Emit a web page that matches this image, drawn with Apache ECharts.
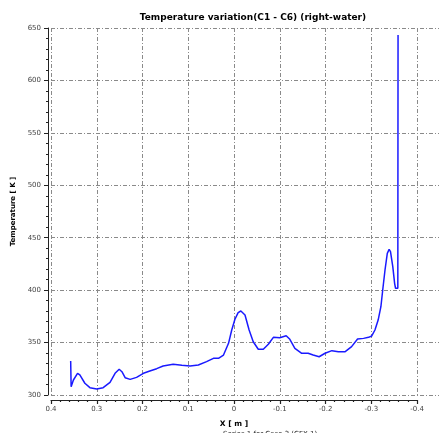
<!DOCTYPE html>
<html>
<head>
<meta charset="utf-8">
<script src="https://cdn.jsdelivr.net/npm/echarts@6/dist/echarts.min.js"></script>
<style>
  html, body { margin: 0; padding: 0; background: #fff; }
  #chart { width: 439px; height: 433px; }
</style>
</head>
<body>
<div id="chart"></div>
<script>
// Position along the line (m) and water temperature (K), C1 -> C6
const xPos = [
  0.357, 0.356, 0.351, 0.342, 0.337, 0.326, 0.315, 0.300, 0.286, 0.271,
  0.260, 0.251, 0.245, 0.238, 0.227, 0.213, 0.198, 0.184, 0.169, 0.155,
  0.133, 0.114, 0.096, 0.078, 0.060, 0.045, 0.034, 0.023, 0.012, 0.005,
  -0.002, -0.009, -0.015, -0.024, -0.033, -0.042, -0.053, -0.064, -0.075, -0.086,
  -0.100, -0.114, -0.122, -0.133, -0.148, -0.162, -0.173, -0.186, -0.199, -0.214,
  -0.228, -0.243, -0.257, -0.270, -0.283, -0.294, -0.301, -0.308, -0.315, -0.321,
  -0.325, -0.330, -0.335, -0.339, -0.342, -0.347, -0.351, -0.353, -0.358, -0.3585
];
const temperature = [
  332.4, 307.9, 314.3, 320.7, 319.1, 311.2, 307.0, 305.7, 307.0, 312.1,
  320.7, 324.5, 322.2, 316.5, 314.9, 316.8, 320.7, 322.9, 325.1, 327.7,
  329.3, 328.3, 327.7, 328.6, 331.8, 335.0, 335.0, 338.1, 349.3, 362.0,
  372.2, 378.5, 380.1, 376.3, 362.0, 350.8, 343.6, 343.6, 348.4, 355.0,
  354.6, 356.5, 353.1, 344.5, 339.8, 339.8, 338.1, 336.5, 339.8, 342.3,
  341.3, 341.3, 346.1, 353.4, 354.0, 355.0, 356.3, 362.0, 371.5, 384.2,
  400.1, 419.2, 435.1, 438.9, 436.7, 422.4, 406.5, 401.8, 401.8, 643.3
];
const seriesName = 'Series 1 for Case 3 (CFX 1)';
const xTicksMin = -0.4, xTicksMax = 0.4;
const yMin = 300, yMax = 650;

const gridDash = { color: '#8a8a8a', width: 1, type: [4, 2, 1, 2] };
const labelFont = { fontFamily: 'DejaVu Sans', fontSize: 7, color: '#444' };

const chart = echarts.init(document.getElementById('chart'), null, { renderer: 'canvas' });
chart.setOption({
  animation: false,
  backgroundColor: '#fff',
  title: {
    text: 'Temperature variation(C1 - C6) (right-water)',
    left: 248, top: 8, textAlign: 'center',
    textStyle: { fontFamily: 'DejaVu Sans', fontWeight: 'bold', fontSize: 9, color: '#000' }
  },
  legend: {
    data: [seriesName],
    left: 195, top: 426,
    itemWidth: 18, itemHeight: 2, itemGap: 4,
    icon: 'rect',
    textStyle: { fontFamily: 'DejaVu Sans', fontSize: 7, color: '#222' }
  },
  grid: [
    // data area, runs to the right edge of the canvas
    { left: 51, right: 0, top: 28, bottom: 38 },
    // tick/label frame from 0.4 to -0.4
    { left: 51, width: 366, top: 28, bottom: 38 }
  ],
  xAxis: [
    {
      gridIndex: 0, type: 'value', inverse: true,
      min: -0.448, max: 0.4, show: false,
      axisLine: { onZero: false }
    },
    {
      gridIndex: 1, type: 'value', inverse: true,
      min: xTicksMin, max: xTicksMax, interval: 0.1,
      position: 'bottom', offset: 5,
      name: 'X [ m ]', nameLocation: 'middle', nameGap: 20,
      nameTextStyle: { fontFamily: 'DejaVu Sans', fontWeight: 'bold', fontSize: 7.5, color: '#000' },
      axisLine: { show: true, onZero: false, lineStyle: { color: '#222', width: 1 } },
      axisTick: { show: true, inside: false, length: 4, lineStyle: { color: '#222', width: 1.2 } },
      minorTick: { show: true, splitNumber: 5, length: 2, lineStyle: { color: '#222', width: 1.2 } },
      axisLabel: Object.assign({ margin: 6, formatter: v => (Math.round(v * 10) / 10).toString() }, labelFont),
      splitLine: { show: true, lineStyle: gridDash }
    }
  ],
  yAxis: [
    {
      gridIndex: 0, type: 'value',
      min: yMin, max: yMax, interval: 50,
      position: 'left', offset: 3,
      name: 'Temperature [ K ]', nameLocation: 'middle', nameGap: 26,
      nameTextStyle: { fontFamily: 'DejaVu Sans', fontWeight: 'bold', fontSize: 7, color: '#000' },
      axisLine: { show: true, onZero: false, lineStyle: { color: '#222', width: 1 } },
      axisTick: { show: true, length: 4, lineStyle: { color: '#222' } },
      minorTick: { show: true, splitNumber: 5, length: 2, lineStyle: { color: '#222' } },
      axisLabel: Object.assign({ margin: 7 }, labelFont),
      splitLine: { show: true, lineStyle: gridDash }
    },
    {
      gridIndex: 1, type: 'value', min: yMin, max: yMax, show: false,
      axisLine: { onZero: false }
    }
  ],
  series: [
    {
      name: seriesName,
      type: 'line',
      xAxisIndex: 0, yAxisIndex: 0,
      data: xPos.map((x, i) => [x, temperature[i]]),
      showSymbol: false,
      smooth: false,
      lineStyle: { color: '#1a1aff', width: 1.5 },
      itemStyle: { color: '#1a1aff' }
    }
  ]
});
</script>
</body>
</html>
